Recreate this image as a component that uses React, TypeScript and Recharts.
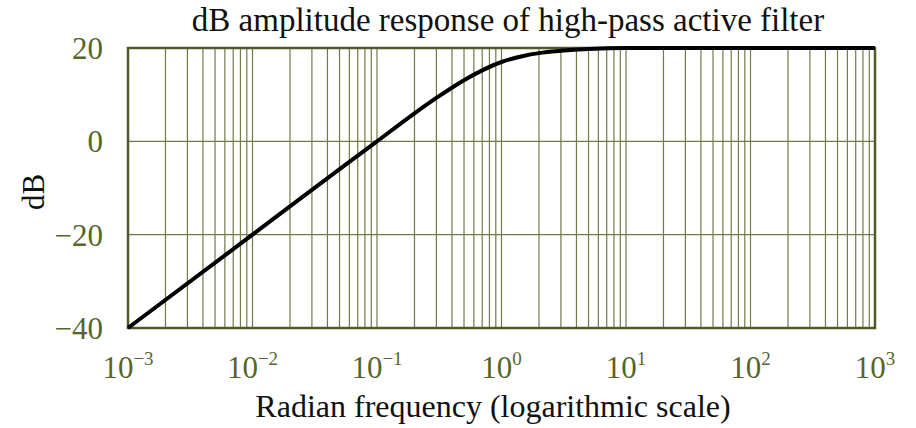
import { LineChart, Line, XAxis, YAxis, CartesianGrid, ReferenceArea } from "recharts";

// values
const frequency = [0.001, 0.01, 0.03, 0.1, 0.2, 0.3, 0.5, 0.7, 1, 1.5, 2, 3, 5, 10, 100, 1000];
const decibels = [-40, -20, -10.4, 0, 6.0, 9.3, 13.1, 15.2, 17.0, 18.3, 18.9, 19.4, 19.8, 20, 20, 20];

const decades = [0.001, 0.01, 0.1, 1, 10, 100];
const steps = [1, 2, 3, 4, 5, 6, 7, 8, 9];
const decadeLabels = ["−3", "−2", "−1", "0", "1", "2", "3"];
const yTicks = [-40, -20, 0, 20];

const chartData = frequency.map((f, i) => ({ f, db: decibels[i] }));

const xTicks = [...decades.flatMap(d => steps.map(s => +(d * s).toPrecision(3))), 1000];

const grid = "#707c48";
const olive = "#56652a";
const font = "'Liberation Serif', 'DejaVu Serif', serif";

const XTick = (props: any) => {
    const { x, y, payload } = props;
    const p = Math.log10(payload.value);
    if (Math.abs(p - Math.round(p)) > 1e-6) return null;
    const label = decadeLabels[Math.round(p) + 3];
    return (
        <text x={x} y={y + 42} textAnchor="middle" fill={olive} fontFamily={font} fontSize={31}>
            <tspan>10</tspan>
            <tspan dy={-13} fontSize={19}>{label}</tspan>
        </text>
    );
};

const YTick = (props: any) => {
    const { y, payload } = props;
    const label = payload.value < 0 ? "−" + Math.abs(payload.value) : String(payload.value);
    return (
        <text x={103} y={y + 11} textAnchor="end" fill={olive} fontFamily={font} fontSize={31}>
            {label}
        </text>
    );
};

function App() {
    return (
        <div style={{ position: "absolute", left: 0, top: 0, width: 916, height: 428, background: "#fff" }}>
            <LineChart width={916} height={428} data={chartData} margin={{ top: 48, right: 41, bottom: 50, left: 68 }}>
                <CartesianGrid stroke={grid} strokeWidth={1.2} />
                <XAxis
                    dataKey="f"
                    type="number"
                    scale="log"
                    domain={[0.001, 1000]}
                    ticks={xTicks}
                    interval={0}
                    height={50}
                    axisLine={false}
                    tickLine={false}
                    tick={<XTick />}
                />
                <YAxis
                    type="number"
                    domain={[-40, 20]}
                    ticks={yTicks}
                    width={60}
                    axisLine={false}
                    tickLine={false}
                    tick={<YTick />}
                />
                <ReferenceArea x1={0.001} x2={1000} y1={-40} y2={20} fill="none" stroke="#4e5a2a" strokeWidth={2.5} ifOverflow="visible" />
                <Line dataKey="db" type="monotone" stroke="#000" strokeWidth={4} dot={false} isAnimationActive={false} />
                <text x={508} y={31} textAnchor="middle" fontFamily={font} fontSize={33} fill="#111">
                    dB amplitude response of high-pass active filter
                </text>
                <text x={493} y={417} textAnchor="middle" fontFamily={font} fontSize={32} fill="#111">
                    Radian frequency (logarithmic scale)
                </text>
                <text x={44} y={192} textAnchor="middle" fontFamily={font} fontSize={31} fill="#111" transform="rotate(-90 44 192)">
                    dB
                </text>
            </LineChart>
        </div>
    );
}

export default App
